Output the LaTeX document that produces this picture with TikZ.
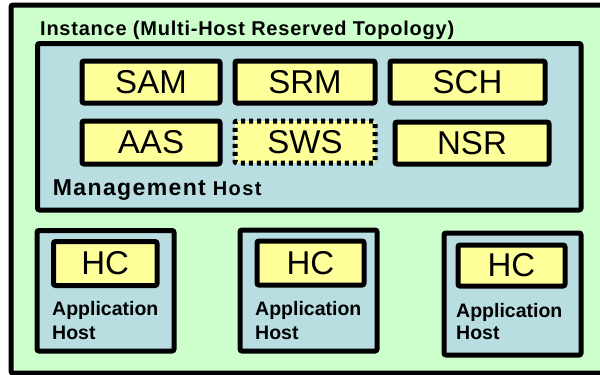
\documentclass[tikz,border=0pt]{standalone}
\usepackage{fontspec}
\setmainfont{Liberation Sans}
\definecolor{instgreen}{RGB}{204,255,204}
\definecolor{hostblue}{RGB}{184,222,226}
\definecolor{compyellow}{RGB}{255,255,153}
\tikzset{
  frame/.style={draw=black, line width=5pt, rounded corners=2pt, inner sep=0pt},
  instbox/.style={frame, fill=instgreen},
  hostbox/.style={frame, fill=hostblue},
  compbox/.style={frame, fill=compyellow, font=\fontsize{33}{38}\selectfont},
  optbox/.style={compbox, dash pattern=on 4pt off 4pt},
  boldlabel/.style={anchor=base west, inner sep=0pt, font=\bfseries\fontsize{19.5}{23}\selectfont},
}
\begin{document}
\begin{tikzpicture}[x=1pt, y=-1pt]
\useasboundingbox (0,0) rectangle (600,375);
\clip (0,0) rectangle (600,375);

% instance
\node[instbox, minimum width=594pt, minimum height=368pt] (inst) at (308,189) {};
\node[anchor=base west, inner sep=0pt, font=\bfseries\fontsize{20}{24}\selectfont\addfontfeature{LetterSpace=3.8}] (title) at (40,35) {Instance (Multi-Host Reserved Topology)};

% management host and its components
\node[hostbox, minimum width=543.5pt, minimum height=166.5pt] (mgmt) at (309.25,126.75) {};
\node[compbox, minimum width=138pt, minimum height=42pt] (sam) at (151,82) {SAM};
\node[compbox, minimum width=140pt, minimum height=42pt] (srm) at (305,82) {SRM};
\node[compbox, minimum width=155pt, minimum height=42pt] (sch) at (467.5,82) {SCH};
\node[compbox, minimum width=138pt, minimum height=43pt] (aas) at (151,142.5) {AAS};
\node[optbox, minimum width=140pt, minimum height=42pt] (sws) at (305,142) {SWS};
\node[compbox, minimum width=154pt, minimum height=42pt] (nsr) at (472,143) {NSR};
\node[anchor=base west, inner sep=0pt, font=\bfseries] (mlabel) at (52.7,195.7)
  {{\fontsize{23}{27}\selectfont\addfontfeature{LetterSpace=6}Management}\hspace{7pt}{\fontsize{20}{24}\selectfont\addfontfeature{LetterSpace=7}Host}};

% application hosts
\node[hostbox, minimum width=137pt, minimum height=120.5pt] (app1) at (105.5,290.75) {};
\node[compbox, minimum width=103.5pt, minimum height=44pt] (hc1) at (105.25,263.5) {HC};
\node[boldlabel] (app1a) at (52,315) {Application};
\node[boldlabel] (app1b) at (52,339) {Host};

\node[hostbox, minimum width=137pt, minimum height=121pt] (app2) at (308.5,290.5) {};
\node[compbox, minimum width=107pt, minimum height=44pt] (hc2) at (310.5,263) {HC};
\node[boldlabel] (app2a) at (255,315) {Application};
\node[boldlabel] (app2b) at (255,339) {Host};

\node[hostbox, minimum width=137pt, minimum height=122pt] (app3) at (512.5,294) {};
\node[compbox, minimum width=107pt, minimum height=41pt] (hc3) at (511.5,265.5) {HC};
\node[boldlabel] (app3a) at (456,317) {Application};
\node[boldlabel] (app3b) at (456,339) {Host};
\end{tikzpicture}
\end{document}
